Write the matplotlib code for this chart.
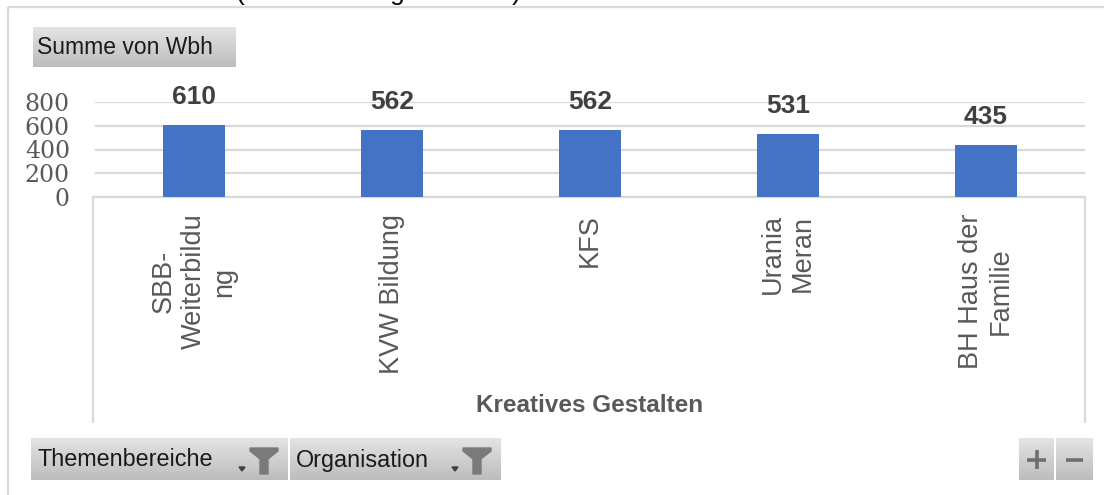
import matplotlib
matplotlib.use("Agg")
import matplotlib.pyplot as plt
import numpy as np
from matplotlib.patches import Polygon

# ---- data ----
categories = ["SBB-\nWeiterbildu\nng", "KVW Bildung", "KFS", "Urania\nMeran", "BH Haus der\nFamilie"]
values = [610, 562, 562, 531, 435]
yticks = [0, 200, 400, 600, 800]
axis_title = "Kreatives Gestalten"
value_button = "Summe von Wbh"
filter_buttons = ["Themenbereiche", "Organisation"]
top_title = "(Weiterbildungsstunden)"

W, H = 1104, 495
fig = plt.figure(figsize=(W / 100, H / 100), dpi=100)
fig.patch.set_facecolor("white")

SANS = ["Liberation Sans", "DejaVu Sans"]
SERIF = ["DejaVu Serif", "Liberation Serif"]
GRID = "#d9d9d9"


def px_axes(x0, y0, x1, y1, z=1):
    return fig.add_axes([x0 / W, 1 - y1 / H, (x1 - x0) / W, (y1 - y0) / H], zorder=z)


def pixel_frame(x0, y0, x1, y1, z=5):
    a = px_axes(x0, y0, x1, y1, z)
    a.set_xlim(0, x1 - x0)
    a.set_ylim(y1 - y0, 0)
    a.axis("off")
    return a


# ---- outer border and clipped title (cut off at the top edge, as in the reference) ----
fr = pixel_frame(0, 0, W, H, z=0)
fr.plot([8, 8], [7, H], color=GRID, lw=1.6, solid_capstyle="butt")
fr.plot([8, W], [7, 7], color=GRID, lw=1.6, solid_capstyle="butt")
fig.text(235 / W, 1.0, top_title, ha="left", va="baseline", fontsize=19,
         family=SANS, color="black")

# ---- category box ----
box = px_axes(93, 197, 1085, 422, z=1)
box.set_xticks([])
box.set_yticks([])
for s in ["left", "right", "top"]:
    box.spines[s].set_color(GRID)
    box.spines[s].set_linewidth(1.6)
box.spines["bottom"].set_visible(False)
box.patch.set_alpha(0)

# ---- main plot ----
ax = px_axes(95, 102, 1085, 197, z=2)
ax.patch.set_alpha(0)
x = np.arange(len(categories))
bars = ax.bar(x, values, width=0.31, color="#4472c4", zorder=3)
ax.set_xlim(-0.5, len(categories) - 0.5)
ax.set_ylim(0, 800)
ax.set_yticks(yticks)
ax.set_yticklabels([str(v) for v in yticks], family=SERIF, fontsize=17, color="#595959")
ax.yaxis.grid(True, color=GRID, lw=1.6, zorder=0)
ax.set_axisbelow(True)
ax.tick_params(axis="y", length=0, pad=18)
ax.set_xticks(x)
ax.set_xticklabels(categories, rotation=90, va="top", ha="center",
                   multialignment="center", family=SANS, fontsize=19.5, color="#595959")
ax.tick_params(axis="x", length=0, pad=12)
for s in ax.spines.values():
    s.set_visible(False)

ax.bar_label(bars, labels=[str(v) for v in values], padding=11.5, fontsize=19,
             fontweight="bold", color="#404040", family=SANS)

fig.text(590 / W, 1 - 405 / H, axis_title, ha="center", va="center", fontsize=17.5,
         fontweight="bold", color="#595959", family=SANS)

# ---- buttons ----
grad = np.linspace(0, 1, 64).reshape(-1, 1)
gcmap = matplotlib.colors.LinearSegmentedColormap.from_list("g", ["#e3e3e3", "#bdbdbd"])


def button(x0, y0, x1, y1):
    b = pixel_frame(x0, y0, x1, y1, z=6)
    b.imshow(grad, cmap=gcmap, aspect="auto", extent=[0, x1 - x0, y1 - y0, 0], zorder=0)
    b.set_xlim(0, x1 - x0)
    b.set_ylim(y1 - y0, 0)
    return b


def funnel(b, xl, xr_arrow):
    b.add_patch(Polygon([[xr_arrow - 3, 29], [xr_arrow + 3, 29], [xr_arrow, 33]],
                        closed=True, color="#404040", zorder=2))
    w = 28
    b.add_patch(Polygon([[xl, 10], [xl + w, 10], [xl + w, 13], [xl + 18, 21],
                         [xl + 18, 36], [xl + 10, 36], [xl + 10, 21], [xl, 13]],
                        closed=True, color="#7a7a7a", zorder=2))


b1 = button(33, 27, 236, 67)
b1.text(4, 21, value_button, ha="left", va="center", fontsize=16.5, family=SANS,
        color="#1a1a1a")

b2 = button(31, 438, 288, 480)
b2.text(6, 22, filter_buttons[0], ha="left", va="center", fontsize=16.8, family=SANS,
        color="#1a1a1a")
funnel(b2, 219, 211)

b3 = button(290, 438, 501, 480)
b3.text(6, 22, filter_buttons[1], ha="left", va="center", fontsize=16.8, family=SANS,
        color="#1a1a1a")
funnel(b3, 173, 165)

b4 = button(1019, 438, 1054, 480)
b4.plot([17.5, 17.5], [12, 31], color="#6e6e6e", lw=2.6, solid_capstyle="butt", zorder=2)
b4.plot([8, 27], [21.5, 21.5], color="#6e6e6e", lw=2.6, solid_capstyle="butt", zorder=2)

b5 = button(1056, 438, 1093, 480)
b5.plot([10, 27], [21.5, 21.5], color="#6e6e6e", lw=2.6, solid_capstyle="butt", zorder=2)

fig.savefig("out.png", dpi=100)
